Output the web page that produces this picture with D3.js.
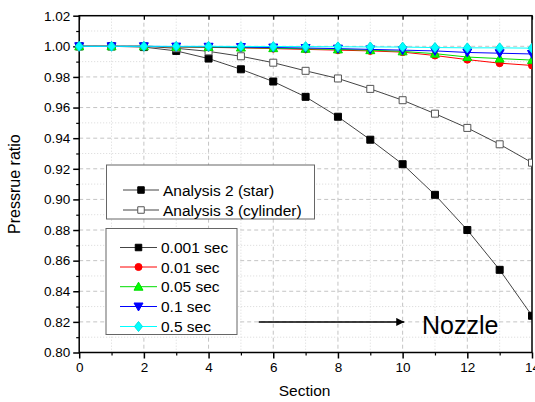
<!DOCTYPE html>
<html>
<head>
<meta charset="utf-8">
<script src="https://cdn.jsdelivr.net/npm/d3@7"></script>
<style>
  body { margin: 0; background: #fff; }
  text { font-family: "Liberation Sans", Arial, sans-serif; }
</style>
</head>
<body>
<div id="chart"></div>
<script>
// Section numbers along the nozzle
const sections = [0, 1, 2, 3, 4, 5, 6, 7, 8, 9, 10, 11, 12, 13, 14];

// Pressure ratio values
const analysis2 = [1.000, 1.000, 0.9995, 0.997, 0.992, 0.985, 0.977, 0.967, 0.954, 0.939, 0.923, 0.903, 0.880, 0.854, 0.824];
const analysis3 = [1.000, 1.000, 1.000, 0.9987, 0.9967, 0.9935, 0.9893, 0.984, 0.979, 0.9722, 0.9648, 0.956, 0.9467, 0.936, 0.924];
const sec001 = [1.000, 1.000, 1.000, 0.9996, 0.9993, 0.999, 0.9985, 0.998, 0.9975, 0.997, 0.9962, 0.994, 0.9913, 0.989, 0.9875];
const sec005 = [1.000, 1.000, 1.000, 0.9997, 0.9995, 0.9992, 0.9988, 0.9984, 0.998, 0.9975, 0.9967, 0.9952, 0.993, 0.992, 0.991];
const sec01 = [1.000, 1.000, 1.000, 0.9998, 0.9997, 0.9995, 0.9992, 0.9989, 0.9985, 0.998, 0.9975, 0.997, 0.996, 0.9955, 0.995];
const sec05 = [1.000, 1.000, 1.000, 1.000, 1.000, 0.9999, 0.9999, 0.9998, 0.9997, 0.9996, 0.9995, 0.9992, 0.999, 0.999, 0.9988];

const xTicks = [0, 2, 4, 6, 8, 10, 12, 14];
const yTicks = [0.80, 0.82, 0.84, 0.86, 0.88, 0.90, 0.92, 0.94, 0.96, 0.98, 1.00, 1.02];

const legend1 = ["Analysis 2 (star)", "Analysis 3 (cylinder)"];
const legend2 = ["0.001 sec", "0.01 sec", "0.05 sec", "0.1 sec", "0.5 sec"];

const width = 535, height = 402;
const margin = { top: 15.7, right: 3, bottom: 49.5, left: 79.2 };
const w = width - margin.left - margin.right;
const h = height - margin.top - margin.bottom;

const svg = d3.select("#chart").append("svg")
    .attr("width", width)
    .attr("height", height);

const g = svg.append("g")
    .attr("transform", "translate(" + margin.left + "," + margin.top + ")");

const x = d3.scaleLinear().domain([0, 14]).range([0, w]);
const y = d3.scaleLinear().domain([0.80, 1.02]).range([h, 0]);

// minor grid (dotted)
const xMinor = d3.range(1, 14, 2);
const yMinor = d3.range(0.81, 1.02, 0.02);
g.selectAll(".gx-minor").data(xMinor).enter().append("line")
    .attr("x1", d => x(d)).attr("x2", d => x(d))
    .attr("y1", 0).attr("y2", h)
    .attr("stroke", "#d8d8d8").attr("stroke-dasharray", "1,2");
g.selectAll(".gy-minor").data(yMinor).enter().append("line")
    .attr("y1", d => y(d)).attr("y2", d => y(d))
    .attr("x1", 0).attr("x2", w)
    .attr("stroke", "#d8d8d8").attr("stroke-dasharray", "1,2");

// major grid (dashed)
g.selectAll(".gx").data(xTicks.slice(1, -1)).enter().append("line")
    .attr("x1", d => x(d)).attr("x2", d => x(d))
    .attr("y1", 0).attr("y2", h)
    .attr("stroke", "#c4c4c4").attr("stroke-dasharray", "4,3");
g.selectAll(".gy").data(yTicks.slice(1, -1)).enter().append("line")
    .attr("y1", d => y(d)).attr("y2", d => y(d))
    .attr("x1", 0).attr("x2", w)
    .attr("stroke", "#c4c4c4").attr("stroke-dasharray", "4,3");

// axes
const fmtY = d3.format(".2f");
const xAxis = g.append("g")
    .attr("transform", "translate(0," + h + ")")
    .call(d3.axisBottom(x).tickValues(xTicks).tickSize(6).tickPadding(4));
const yAxis = g.append("g")
    .call(d3.axisLeft(y).tickValues(yTicks).tickFormat(fmtY).tickSize(6).tickPadding(3));
[xAxis, yAxis].forEach(a => {
    a.select(".domain").remove();
    a.selectAll("line").attr("stroke", "#000").attr("stroke-width", 1.5);
    a.selectAll("text").style("font-size", "13.5px").attr("fill", "#000")
        .style("font-family", "'Liberation Sans', Arial, sans-serif");
});
// minor ticks
g.append("g").attr("transform", "translate(0," + h + ")")
    .call(d3.axisBottom(x).tickValues(xMinor).tickSize(3).tickFormat(""))
    .call(a => a.select(".domain").remove())
    .selectAll("line").attr("stroke", "#000").attr("stroke-width", 1.2);
g.append("g")
    .call(d3.axisLeft(y).tickValues(yMinor).tickSize(3).tickFormat(""))
    .call(a => a.select(".domain").remove())
    .selectAll("line").attr("stroke", "#000").attr("stroke-width", 1.2);
// top ticks (inward)
g.append("g")
    .call(d3.axisTop(x).tickValues(xTicks).tickSize(-4).tickFormat(""))
    .call(a => a.select(".domain").remove())
    .selectAll("line").attr("stroke", "#000").attr("stroke-width", 1.2);

// frame
g.append("rect")
    .attr("width", w).attr("height", h)
    .attr("fill", "none").attr("stroke", "#000").attr("stroke-width", 1.5);

// axis titles
svg.append("text")
    .attr("x", margin.left + w / 2 - 1)
    .attr("y", 396)
    .attr("text-anchor", "middle")
    .style("font-size", "15.5px")
    .text("Section");
svg.append("text")
    .attr("transform", "translate(20," + (margin.top + h / 2) + ") rotate(-90)")
    .attr("text-anchor", "middle")
    .style("font-size", "16px")
    .text("Pressrue ratio");

// series
const series = [
    { name: "a2", values: analysis2, line: "#444", shape: "square", fill: "#000", stroke: "#000", size: 7 },
    { name: "a3", values: analysis3, line: "#444", shape: "square", fill: "#fff", stroke: "#555", size: 7 },
    { name: "s001", values: sec001, line: "#ff0000", shape: "circle", fill: "#ff0000", stroke: "#ff0000", size: 7 },
    { name: "s005", values: sec005, line: "#00dd00", shape: "up", fill: "#00ff00", stroke: "#00dd00", size: 8 },
    { name: "s01", values: sec01, line: "#0000ff", shape: "down", fill: "#0000ff", stroke: "#0000ff", size: 8 },
    { name: "s05", values: sec05, line: "#00ffff", shape: "diamond", fill: "#00ffff", stroke: "#00e0e0", size: 9 }
];

function symbolFor(shape, size) {
    const area = size * size;
    if (shape === "square") return d3.symbol().type(d3.symbolSquare).size(area)();
    if (shape === "circle") return d3.symbol().type(d3.symbolCircle).size(area * 0.8)();
    if (shape === "diamond") return "M0,-5L4,0L0,5L-4,0Z";
    if (shape === "up") return "M0,-4.5L4.5,3.5L-4.5,3.5Z";
    if (shape === "down") return "M0,4.5L4.5,-3.5L-4.5,-3.5Z";
}

const lineGen = d3.line()
    .x((d, i) => x(sections[i]))
    .y(d => y(d));

const clip = svg.append("clipPath").attr("id", "clip")
    .append("rect").attr("x", -6).attr("y", -6).attr("width", w + 6).attr("height", h + 12);

series.forEach(s => {
    const sg = g.append("g").attr("clip-path", "url(#clip)");
    sg.append("path")
        .datum(s.values)
        .attr("d", lineGen)
        .attr("fill", "none")
        .attr("stroke", s.line)
        .attr("stroke-width", 1);
    sg.selectAll("path.m").data(s.values).enter().append("path")
        .attr("class", "m")
        .attr("transform", (d, i) => "translate(" + x(sections[i]) + "," + y(d) + ")")
        .attr("d", symbolFor(s.shape, s.size))
        .attr("fill", s.fill)
        .attr("stroke", s.stroke)
        .attr("stroke-width", 1);
});

// arrow annotation
svg.append("defs").append("marker")
    .attr("id", "head")
    .attr("viewBox", "0 0 10 10")
    .attr("refX", 10).attr("refY", 5)
    .attr("markerWidth", 17).attr("markerHeight", 8)
    .attr("markerUnits", "userSpaceOnUse")
    .attr("orient", "auto")
    .append("path").attr("d", "M0,0L10,5L0,10Z").attr("fill", "#000");
g.append("line")
    .attr("x1", x(5.55)).attr("x2", x(10.05))
    .attr("y1", y(0.82)).attr("y2", y(0.82))
    .attr("stroke", "#000").attr("stroke-width", 1.5)
    .attr("marker-end", "url(#head)");
g.append("text")
    .attr("x", x(10.6)).attr("y", y(0.82) + 12)
    .style("font-size", "25px")
    .text("Nozzle");

// legend boxes
function drawLegend(items, styles, bx, by, bw, bh, rowY, lineX1, lineX2, textX) {
    const lg = svg.append("g");
    lg.append("rect")
        .attr("x", bx).attr("y", by).attr("width", bw).attr("height", bh)
        .attr("fill", "#fff").attr("stroke", "#666").attr("stroke-width", 1);
    items.forEach((label, i) => {
        const s = styles[i];
        const yy = rowY[i];
        lg.append("line")
            .attr("x1", lineX1).attr("x2", lineX2).attr("y1", yy).attr("y2", yy)
            .attr("stroke", s.line).attr("stroke-width", 1);
        lg.append("path")
            .attr("transform", "translate(" + ((lineX1 + lineX2) / 2) + "," + yy + ")")
            .attr("d", symbolFor(s.shape, s.shape === "square" ? 6.5 : s.size))
            .attr("fill", s.fill).attr("stroke", s.stroke);
        lg.append("text")
            .attr("x", textX).attr("y", yy + 5.5)
            .style("font-size", "15.5px")
            .text(label);
    });
}

drawLegend(legend1, [series[0], series[1]], 106.5, 165, 208, 54, [190, 210], 123, 159, 163);
drawLegend(legend2, [series[0], series[2], series[3], series[4], series[5]], 106, 228.5, 131, 106,
    [247.5, 267, 286.7, 306.5, 326.5], 120, 157, 161);
</script>
</body>
</html>
